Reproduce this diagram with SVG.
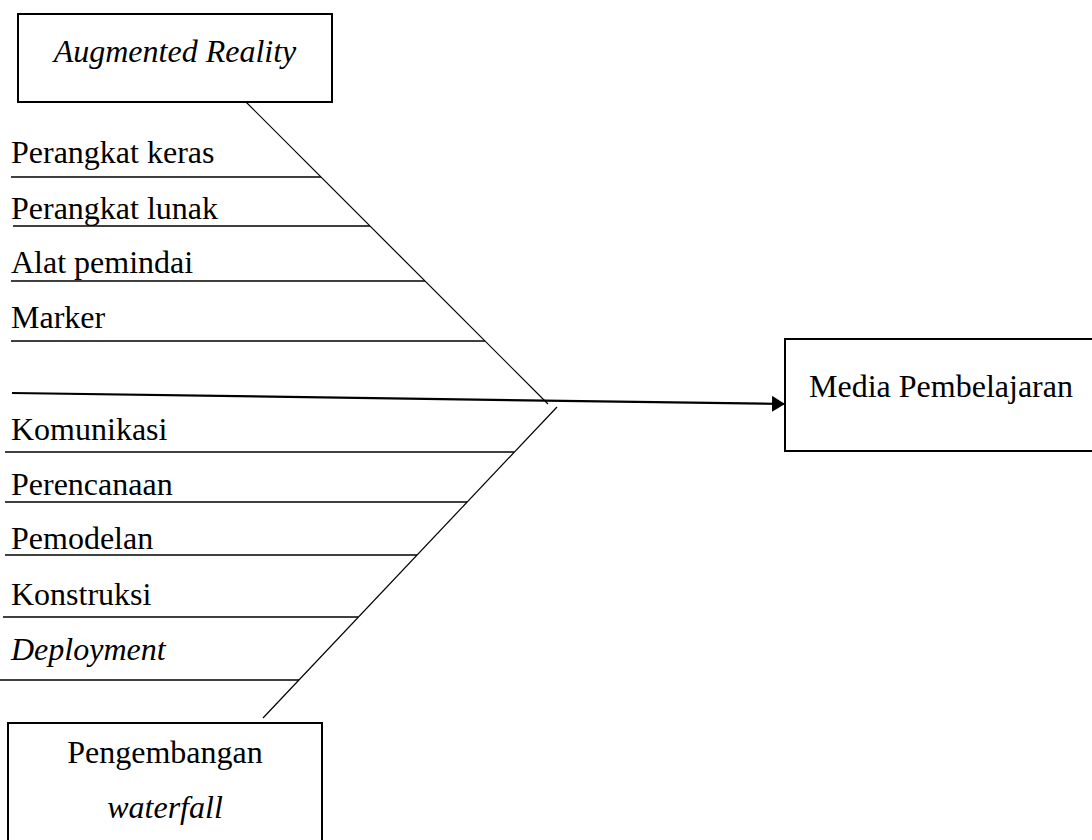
<svg xmlns="http://www.w3.org/2000/svg" width="1092" height="840" viewBox="0 0 1092 840">
<style>
.t{font-family:"Liberation Serif","Times New Roman",serif;font-size:32px;fill:#000}
.i{font-style:italic}
.box{fill:#fff;stroke:#000;stroke-width:2}
.rule{stroke:#000;stroke-width:1.3;fill:none}
.diag{stroke:#000;stroke-width:1.2;fill:none}
.main{stroke:#000;stroke-width:2.2;fill:none}
</style>
<defs>
<marker id="arr" markerWidth="13" markerHeight="16" refX="13" refY="8" orient="auto" markerUnits="userSpaceOnUse">
<path d="M0,0 L13,8 L0,16 Z" fill="#000"/>
</marker>
</defs>
<rect width="1092" height="840" fill="#fff"/>
<g id="connectors">
<line class="diag" x1="246" y1="102" x2="548" y2="404"/>
<line class="diag" x1="557" y1="407" x2="263" y2="718"/>
<line class="main" x1="12" y1="393" x2="785" y2="404" marker-end="url(#arr)"/>
</g>
<g id="node-ar">
<rect class="box" x="18" y="14" width="314" height="88"/>
<text class="t i" x="175" y="62" text-anchor="middle">Augmented Reality</text>
</g>
<g id="node-media">
<rect class="box" x="785" y="339" width="320" height="112"/>
<text class="t" x="941" y="397" text-anchor="middle">Media Pembelajaran</text>
</g>
<g id="node-waterfall">
<rect class="box" x="8" y="723" width="314" height="130"/>
<text class="t" x="165" y="763" text-anchor="middle">Pengembangan</text>
<text class="t i" x="165" y="818" text-anchor="middle">waterfall</text>
</g>
<g id="cause-perangkat-keras">
<text class="t" x="11" y="163">Perangkat keras</text>
<line class="rule" x1="11" y1="177" x2="321" y2="177"/>
</g>
<g id="cause-perangkat-lunak">
<text class="t" x="11" y="219">Perangkat lunak</text>
<line class="rule" x1="13" y1="226" x2="370" y2="226"/>
</g>
<g id="cause-alat-pemindai">
<text class="t" x="11" y="273">Alat pemindai</text>
<line class="rule" x1="11" y1="281" x2="425" y2="281"/>
</g>
<g id="cause-marker">
<text class="t" x="11" y="328">Marker</text>
<line class="rule" x1="11" y1="341" x2="485" y2="341"/>
</g>
<g id="cause-komunikasi">
<text class="t" x="11" y="440">Komunikasi</text>
<line class="rule" x1="5" y1="452" x2="514" y2="452"/>
</g>
<g id="cause-perencanaan">
<text class="t" x="11" y="495">Perencanaan</text>
<line class="rule" x1="5" y1="502" x2="467" y2="502"/>
</g>
<g id="cause-pemodelan">
<text class="t" x="11" y="549">Pemodelan</text>
<line class="rule" x1="5" y1="555" x2="417" y2="555"/>
</g>
<g id="cause-konstruksi">
<text class="t" x="11" y="605">Konstruksi</text>
<line class="rule" x1="3" y1="617" x2="358" y2="617"/>
</g>
<g id="cause-deployment">
<text class="t i" x="11" y="660">Deployment</text>
<line class="rule" x1="0" y1="680" x2="299" y2="680"/>
</g>
</svg>
